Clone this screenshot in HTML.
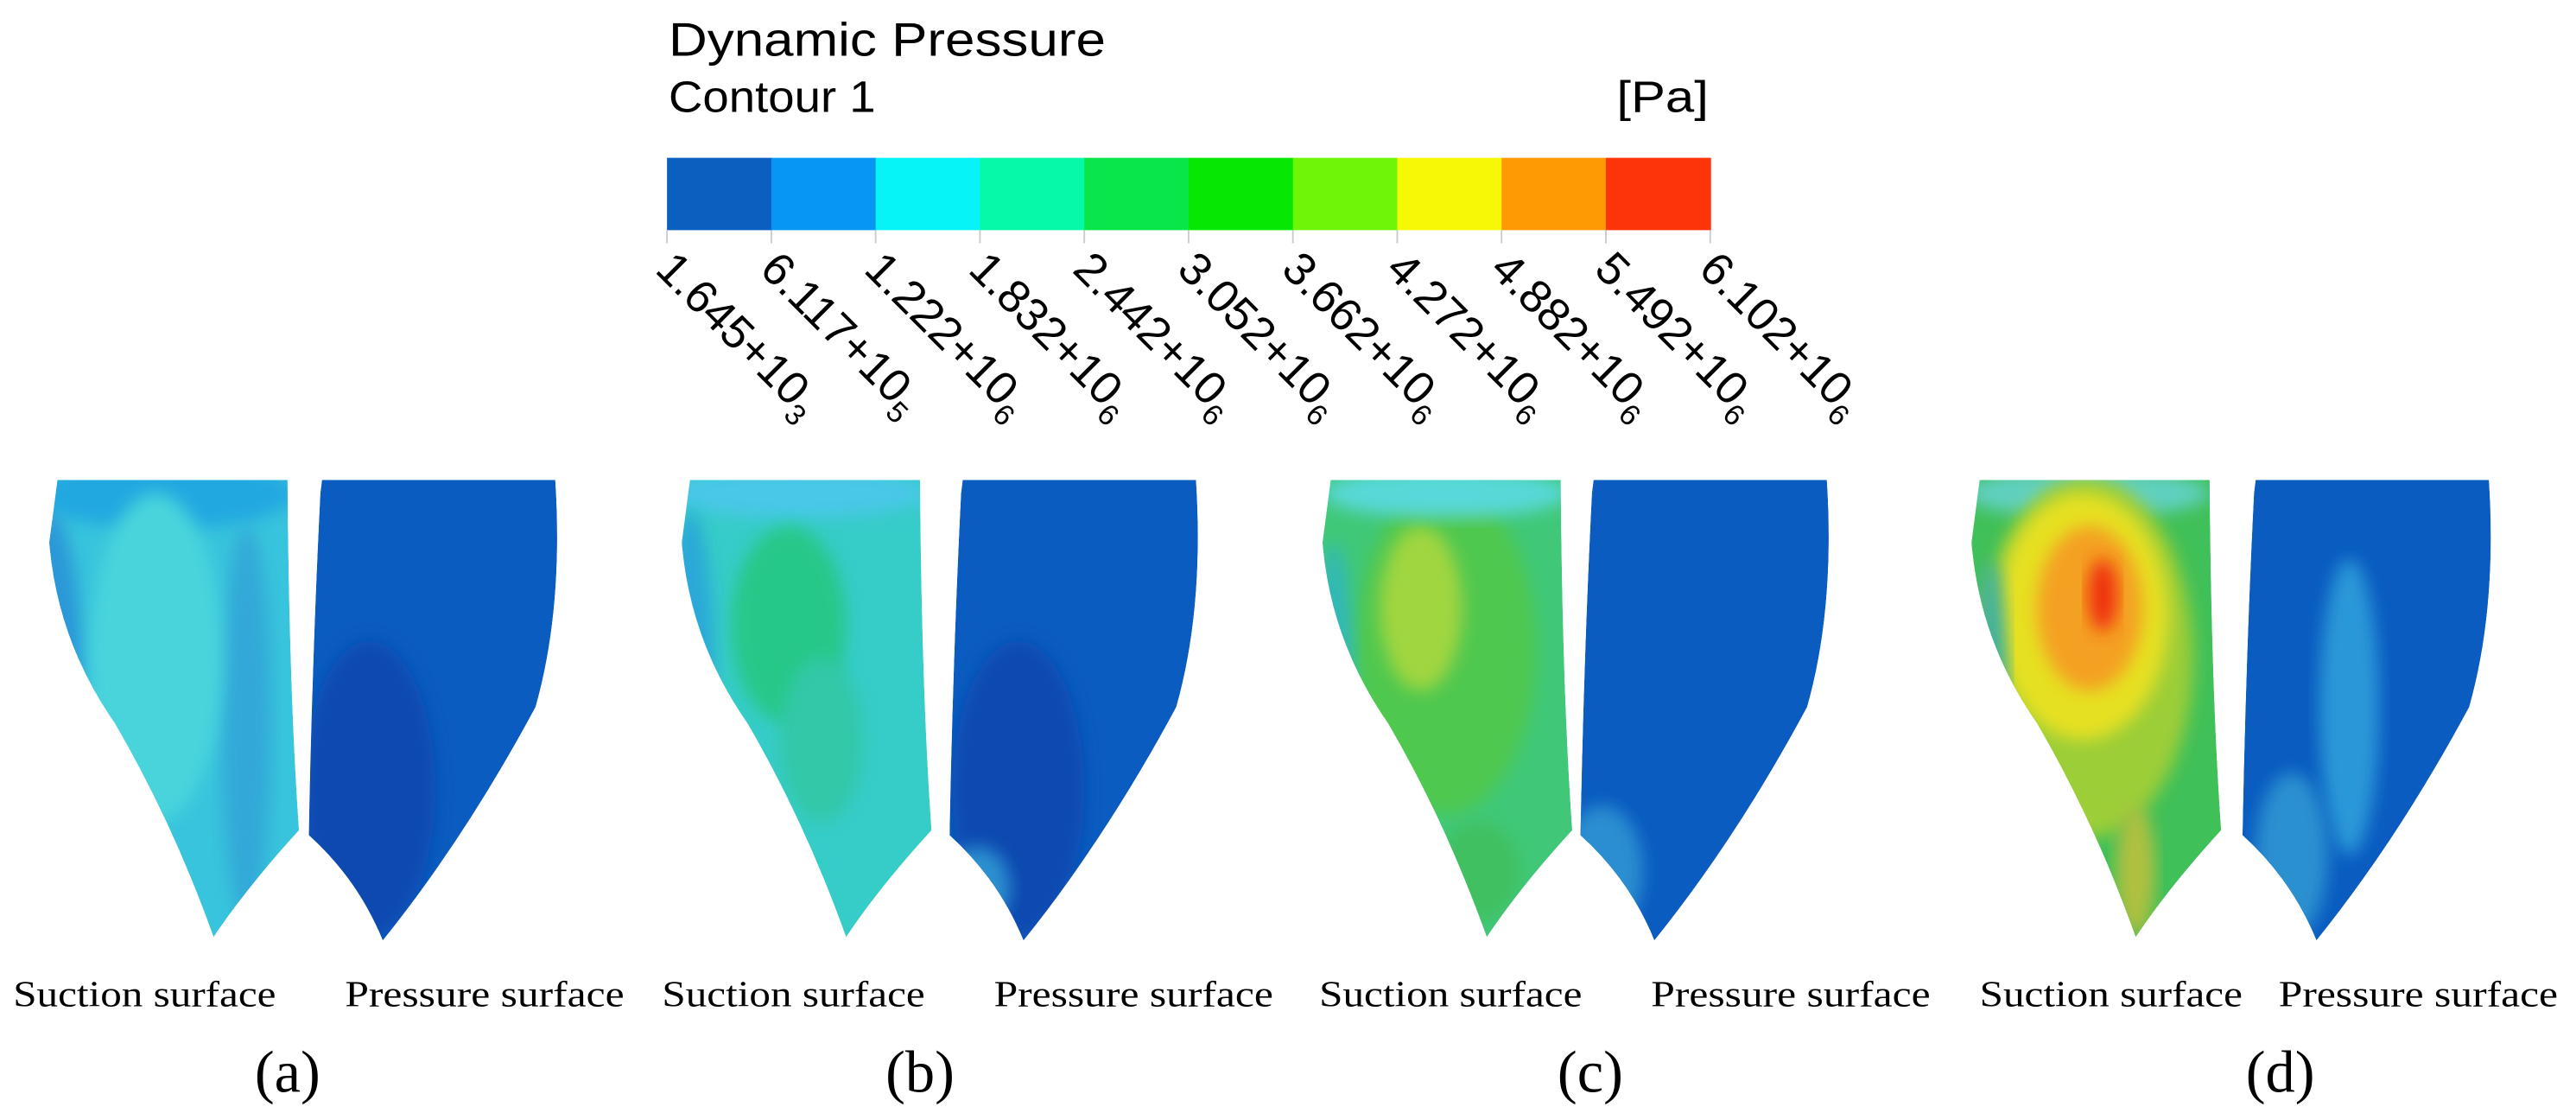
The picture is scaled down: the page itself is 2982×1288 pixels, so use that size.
<!DOCTYPE html>
<html><head><meta charset="utf-8"><style>
html,body{margin:0;padding:0;background:#fff;}
svg{display:block;}
</style></head><body>
<svg id="fig" width="2982" height="1288" viewBox="0 0 1568 677" preserveAspectRatio="none" xmlns="http://www.w3.org/2000/svg">
<defs>
<filter id="blur" x="-20%" y="-20%" width="140%" height="140%"><feGaussianBlur stdDeviation="5"/></filter>
</defs>
<text x="407" y="34" font-family="Liberation Sans, sans-serif" font-size="29" textLength="266" lengthAdjust="spacingAndGlyphs">Dynamic Pressure</text>
<text x="407" y="68" font-family="Liberation Sans, sans-serif" font-size="27" textLength="126" lengthAdjust="spacingAndGlyphs">Contour 1</text>
<text x="1040" y="68" text-anchor="end" font-family="Liberation Sans, sans-serif" font-size="27" textLength="56" lengthAdjust="spacingAndGlyphs">[Pa]</text>
<g id="legend"></g>
<g id="panels"></g>
</svg>
<script>
const legendColors = ["#0a5fbf","#0896f5","#06f4f7","#06f9a8","#08e64a","#04e804","#6ef508","#f7f806","#fd9a04","#fd330a"];
const tickMain = ["1.645×10","6.117×10","1.222×10","1.832×10","2.442×10","3.052×10","3.662×10","4.272×10","4.882×10","5.492×10","6.102×10"];
const tickExp = ["3","5","6","6","6","6","6","6","6","6","6"];
const NS="http://www.w3.org/2000/svg";
const svg=document.getElementById('fig');
const lg=document.getElementById('legend');
const bx0=406,bx1=1041,by0=96,by1=140;
const cw=(bx1-bx0)/legendColors.length;
function xTick(i){return bx0+i*cw;}
function mk(tag,attrs,parent){const e=document.createElementNS(NS,tag);for(const k in attrs)e.setAttribute(k,attrs[k]);parent.appendChild(e);return e;}
legendColors.forEach((c,i)=>{
  const r=mk('rect',{x:xTick(i),y:by0,width:cw+0.5,height:by1-by0,fill:c},lg);
  
  
});
tickMain.forEach((t,i)=>{
  const x=xTick(i);
  const l=mk('line',{x1:x,y1:by1,x2:x,y2:by1+8,stroke:'#ccc','stroke-width':1},lg);
  
  
  const tx=mk('text',{x:0,y:0,transform:`translate(${x-8},${by1+25}) rotate(45)`,'font-family':'Liberation Sans, sans-serif','font-size':'28'},lg);
  
  
  const a=mk('tspan',{},tx);a.textContent=t.replace('×','+');
  const b=mk('tspan',{dy:'7','font-size':'18'},tx);b.textContent=tickExp[i];
});
const panels=[
 {s:30,p:188,label:"(a)",lx:175,sx:8,px:210,
  sBase:"#38c4dc",sBlobs:[[100,300,80,22,"#20a8e0"],[30,440,22,130,"#2a98d8"],[150,440,15,120,"#30a8d8"],[95,400,40,100,"#48d4dc"]],
  pBase:"#0a5cc0",pBlobs:[[225,480,40,90,"#0848b0"]]},
 {s:415,p:578,label:"(b)",lx:560,sx:403,px:605,
  sBase:"#36ccc8",sBlobs:[[485,300,80,15,"#48c8e8"],[480,380,35,60,"#28c888"],[500,450,25,50,"#30c8a8"],[420,420,15,110,"#2aa8d8"]],
  pBase:"#0a5cc0",pBlobs:[[620,480,40,90,"#0848b0"],[595,540,20,25,"#2a90d0"]]},
 {s:805,p:962,label:"(c)",lx:968,sx:803,px:1005,
  sBase:"#40c878",sBlobs:[[880,395,55,100,"#50c850"],[865,370,25,50,"#a0d640"],[880,300,75,15,"#58d8d8"],[812,430,12,100,"#30b8b8"],[900,530,25,30,"#40c060"]],
  pBase:"#0a5cc0",pBlobs:[[975,530,25,40,"#2a8ed0"]]},
 {s:1200,p:1365,label:"(d)",lx:1388,sx:1205,px:1387,
  sBase:"#40c058",sBlobs:[[1270,300,75,15,"#60d0c0"],[1270,400,65,110,"#9cce38"],[1268,375,52,75,"#e6e020"],[1272,370,32,50,"#f4a020"],[1280,362,9,22,"#f03010"],[1300,530,12,40,"#b0c040"],[1212,430,10,90,"#40b0a0"]],
  pBase:"#0a5cc0",pBlobs:[[1430,430,18,90,"#2a98d8"],[1395,520,22,50,"#2a90d0"]]}
];
const pg=document.getElementById('panels');
panels.forEach((P,k)=>{
  const g=mk('g',{},pg);
  
  
  const s=P.s, p=P.p;
  const sPath=`M${s+5},292 L${s+145},292 Q${s+146},420 ${s+152},505 Q${s+120},540 ${s+100},570 Q${s+75},500 ${s+40},440 Q${s+5},390 ${s},330 Z`;
  const pPath=`M${p+8},292 L${p+150},292 Q${p+155},370 ${p+138},430 Q${p+95},510 ${p+45},572 Q${p+30},535 ${p},508 Q${p+2},400 ${p+7},300 Z`;
  mk('clipPath',{id:'cs'+k},svg).appendChild(document.createElementNS(NS,'path')).setAttribute('d',sPath);
  mk('clipPath',{id:'cp'+k},svg).appendChild(document.createElementNS(NS,'path')).setAttribute('d',pPath);
  const sg=mk('g',{'clip-path':`url(#cs${k})`},g);
  
  
  mk('path',{d:sPath,fill:P.sBase},sg);
  P.sBlobs.forEach(b=>mk('ellipse',{cx:b[0],cy:b[1],rx:b[2],ry:b[3],fill:b[4],filter:'url(#blur)'},sg));
  const pgp=mk('g',{'clip-path':`url(#cp${k})`},g);
  
  
  mk('path',{d:pPath,fill:P.pBase},pgp);
  P.pBlobs.forEach(b=>mk('ellipse',{cx:b[0],cy:b[1],rx:b[2],ry:b[3],fill:b[4],filter:'url(#blur)'},pgp));
  const t1=mk('text',{x:P.sx,y:612,'font-family':'Liberation Serif, serif','font-size':'22',textLength:'160',lengthAdjust:'spacingAndGlyphs'},g);
  t1.textContent="Suction surface";
  
  
  const t2=mk('text',{x:P.px,y:612,'font-family':'Liberation Serif, serif','font-size':'22',textLength:'170',lengthAdjust:'spacingAndGlyphs'},g);
  t2.textContent="Pressure surface";
  
  
  const t3=mk('text',{x:P.lx,y:664,'text-anchor':'middle','font-family':'Liberation Serif, serif','font-size':'36'},g);
  t3.textContent=P.label;
  
  
});
</script>
</body></html>
